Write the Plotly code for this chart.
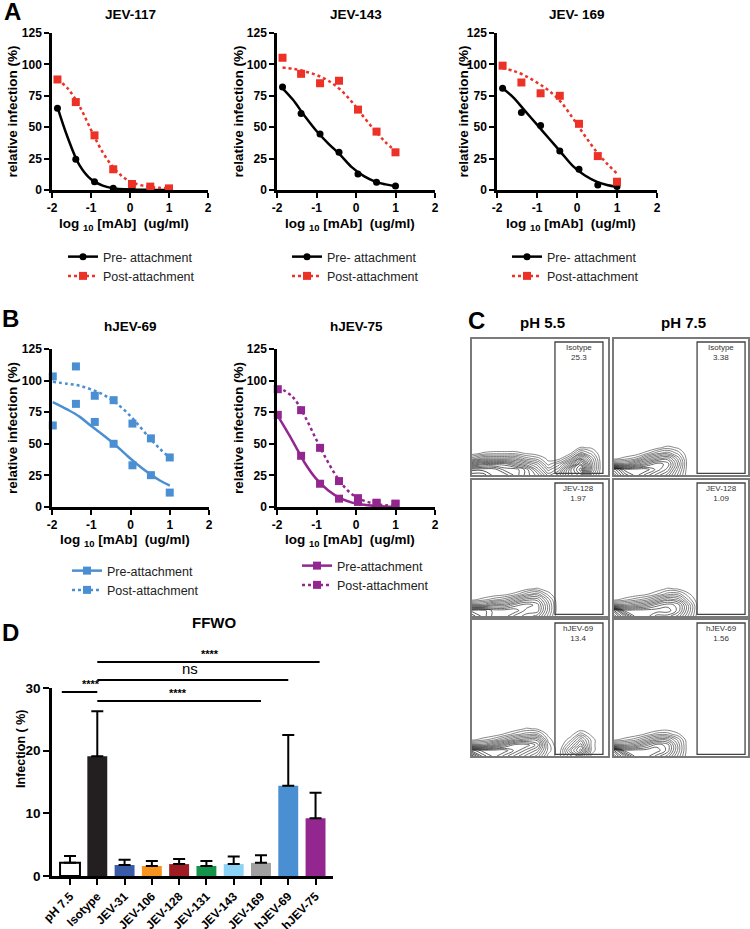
import plotly.graph_objects as go

W, H = 750, 929
FONT = "Arial, 'Liberation Sans', Helvetica, sans-serif"

# ---------------- Panel A / B data (log10 [mAb] ug/ml vs relative infection %) ----------------
log_conc_a = [-1.86, -1.39, -0.91, -0.43, 0.05, 0.52, 1.0]
log_conc_b = [-1.98, -1.39, -0.91, -0.43, 0.05, 0.52, 1.0]
fit_x_a = [-1.86, -1.6, -1.3, -1.0, -0.7, -0.4, -0.1, 0.2, 0.5, 0.75, 1.0]
fit_x_b = [-1.98, -1.6, -1.3, -1.0, -0.7, -0.4, -0.1, 0.2, 0.5, 0.75, 1.0]

jev117_pre = [65, 24.5, 6.6, 1.3, 0.5, 1.3, 1.0]
jev117_post = [88, 70, 43.5, 16.5, 4.8, 2.7, 1.3]
jev117_pre_fit = [66, 42, 20, 8.5, 3.5, 1.3, 0.5, 0.2, 0.1, 0.0, 0.0]
jev117_post_fit = [88, 81, 67, 48, 30, 17, 8.5, 4.5, 2.5, 1.8, 1.2]

jev143_pre = [82, 61, 44.5, 30, 12.8, 6.1, 3.2]
jev143_post = [105.3, 92.5, 85, 87, 64, 46.5, 30]
jev143_pre_fit = [81, 72, 59, 47, 37, 28, 18, 11, 6.5, 4.5, 3]
jev143_post_fit = [97.5, 96.5, 94.5, 91.5, 87, 80, 70, 58, 46.5, 38, 31]

jev169_pre = [81, 61.7, 51.3, 31, 16.5, 4, 2.7]
jev169_post = [99, 85.6, 77, 75, 52.7, 27, 6.6]
jev169_pre_fit = [81, 74, 63, 52, 41, 30, 19, 11.5, 6.5, 4, 2.5]
jev169_post_fit = [97, 95, 91, 85.5, 79, 70, 57, 43, 30, 21, 13]

hjev69_pre = [64.5, 81.6, 67.3, 50, 33, 25.2, 11.4]
hjev69_post = [103.3, 111.2, 88, 84.5, 66, 54.3, 39.2]
hjev69_pre_fit = [83, 77, 71.5, 64, 57, 49.5, 41, 33, 26, 21, 17]
hjev69_post_fit = [99, 97.5, 96, 93, 89, 83, 75, 65, 54, 46, 39]

hjev75_pre = [72.9, 40.5, 18.4, 6.6, 4, 3, 2.5]
hjev75_post = [93.2, 76.6, 46.8, 20.5, 7, 3.4, 2.6]
hjev75_pre_fit = [72, 52, 35, 22, 13, 7, 3.5, 1.7, 0.8, 0.4, 0.2]
hjev75_post_fit = [95, 87, 72, 53, 35, 20, 10, 5, 2.5, 1.3, 0.7]

dose_tickvals = [-2, -1, 0, 1, 2]
dose_ticktext = ["-2", "-1", "0", "1", "2"]
rel_tickvals = [0, 25, 50, 75, 100, 125]

titles_a = ["JEV-117", "JEV-143", "JEV- 169"]
titles_b = ["hJEV-69", "hJEV-75"]

# ---------------- Panel C data (flow cytometry contour densities) ----------------
c_x = [0, 8, 16, 24, 32, 40, 48, 56, 64, 72, 80, 88, 96]
c_y = [0, 4, 8, 12, 16, 20, 24]
c_iso_55 = [
    [9, 9, 8, 8, 7, 6, 5, 3, 4, 6, 7, 2, 0],
    [8, 8, 8, 7, 7, 6, 4, 2, 3, 6, 8, 3, 0],
    [5, 6, 6, 6, 5, 4, 3, 1, 2, 4, 7, 3, 0],
    [2, 3, 3, 3, 3, 2, 1.5, 0.5, 0.5, 2, 5, 2.5, 0],
    [0.3, 0.8, 1, 1, 1, 0.6, 0.3, 0, 0, 0.5, 2.5, 1.5, 0],
    [0, 0, 0, 0, 0, 0, 0, 0, 0, 0, 0.8, 0.6, 0],
    [0, 0, 0, 0, 0, 0, 0, 0, 0, 0, 0, 0, 0],
]
c_iso_75 = [
    [10, 8, 7, 6, 5, 4, 2, 0, 0, 0, 0, 0, 0],
    [9, 7, 7, 7, 6, 5, 2.5, 0, 0, 0, 0, 0, 0],
    [3, 3, 4, 5, 6, 5.5, 3, 0, 0, 0, 0, 0, 0],
    [0.5, 1, 1.5, 3, 4, 4.5, 2.5, 0, 0, 0, 0, 0, 0],
    [0, 0, 0.3, 1, 2, 2.5, 1.5, 0, 0, 0, 0, 0, 0],
    [0, 0, 0, 0, 0.5, 1, 0.6, 0, 0, 0, 0, 0, 0],
    [0, 0, 0, 0, 0, 0, 0, 0, 0, 0, 0, 0, 0],
]
c_128_55 = [
    [8, 7, 6, 6, 5, 4.5, 4, 2, 0, 0, 0, 0, 0],
    [7, 7, 6, 6, 6, 5, 5, 2.5, 0, 0, 0, 0, 0],
    [3, 3, 4, 4, 5, 5.5, 5, 2.5, 0, 0, 0, 0, 0],
    [0.5, 1, 1.5, 2, 3, 4, 4, 2, 0, 0, 0, 0, 0],
    [0, 0, 0.3, 0.5, 1, 2, 2.5, 1, 0, 0, 0, 0, 0],
    [0, 0, 0, 0, 0, 0.5, 0.8, 0.3, 0, 0, 0, 0, 0],
    [0, 0, 0, 0, 0, 0, 0, 0, 0, 0, 0, 0, 0],
]
c_128_75 = [
    [10, 8, 6, 6, 5, 5, 4, 2, 0, 0, 0, 0, 0],
    [9, 6, 6, 6, 6, 6, 5, 2.5, 0, 0, 0, 0, 0],
    [3, 3, 3.5, 4, 5, 5.5, 5, 2.5, 0, 0, 0, 0, 0],
    [0.5, 1, 1.5, 2, 3, 4, 3.5, 1.5, 0, 0, 0, 0, 0],
    [0, 0, 0.3, 0.6, 1.2, 2, 2, 0.8, 0, 0, 0, 0, 0],
    [0, 0, 0, 0, 0.3, 0.8, 0.6, 0, 0, 0, 0, 0, 0],
    [0, 0, 0, 0, 0, 0, 0, 0, 0, 0, 0, 0, 0],
]
c_h69_55 = [
    [10, 8, 7, 6, 5, 4, 3, 1, 0.5, 2, 3, 0.5, 0],
    [8, 7, 7, 7, 6, 5, 4, 1.5, 0.3, 3, 5, 1, 0],
    [3, 3, 4, 5, 6, 6, 5, 1.5, 0, 2, 4, 1, 0],
    [0.5, 1, 1.5, 2.5, 3.5, 4, 4, 1, 0, 1, 3, 1, 0],
    [0, 0, 0.3, 0.8, 1.5, 2, 2, 0.5, 0, 0.3, 1.5, 0.5, 0],
    [0, 0, 0, 0, 0.3, 0.8, 0.6, 0, 0, 0, 0.3, 0, 0],
    [0, 0, 0, 0, 0, 0, 0, 0, 0, 0, 0, 0, 0],
]
c_h69_75 = [
    [10, 8, 6, 6, 5, 4, 2, 0, 0, 0, 0, 0, 0],
    [9, 6, 6, 6, 6, 5, 2.5, 0, 0, 0, 0, 0, 0],
    [3, 3, 3.5, 4.5, 5.5, 5, 2.5, 0, 0, 0, 0, 0, 0],
    [0.5, 1, 1.5, 2.5, 3.5, 3.5, 2, 0, 0, 0, 0, 0, 0],
    [0, 0, 0.3, 0.8, 1.5, 1.5, 0.8, 0, 0, 0, 0, 0, 0],
    [0, 0, 0, 0, 0.2, 0.4, 0.2, 0, 0, 0, 0, 0, 0],
    [0, 0, 0, 0, 0, 0, 0, 0, 0, 0, 0, 0, 0],
]
c_panels = [c_iso_55, c_iso_75, c_128_55, c_128_75, c_h69_55, c_h69_75]
c_gate_names = ["Isotype", "Isotype", "JEV-128", "JEV-128", "hJEV-69", "hJEV-69"]
c_gate_values = ["25.3", "3.38", "1.97", "1.09", "13.4", "1.56"]
c_col_titles = ["pH 5.5", "pH 7.5"]

# ---------------- Panel D data ----------------
d_cats = ["pH 7.5", "Isotype", "JEV-31", "JEV-106", "JEV-128", "JEV-131",
          "JEV-143", "JEV-169", "hJEV-69", "hJEV-75"]
d_mean = [2.1, 19.1, 1.75, 1.6, 1.9, 1.6, 1.9, 2.1, 14.4, 9.2]
d_err = [1.1, 7.2, 0.85, 0.8, 0.8, 0.8, 1.2, 1.2, 8.1, 4.1]
d_colors = ["#ffffff", "#231f20", "#3a5ba8", "#f7941d", "#9e1c22", "#13944a",
            "#8dd3f6", "#a0a0a0", "#4a8fd1", "#93278f"]
d_tickvals = [0, 10, 20, 30]
# significance comparisons: from / to category index, label, label position, height (axis-domain units)
sig_from = [-0.3, 1.0, 1.0, 1.0]
sig_to = [1.0, 7.0, 8.0, 9.15]
sig_label = ["****", "****", "ns", "****"]
sig_label_x = [0.35, 3.95, 4.4, 5.13]
sig_level = [0.979, 0.931, 1.043, 1.138]

# ---------------- helpers (positions in page pixels) ----------------
def xdom(l, r):
    return [l / W, min(r / W, 1.0)]

def ydom(t, b):
    return [1 - b / H, 1 - t / H]

def px(x):
    return x / W

def py(y):
    return 1 - y / H

RED = "#ec3127"
BLUE = "#4a8fd1"
PURPLE = "#93278f"

fig = go.Figure()
layout = dict(
    template="none",
    width=W, height=H, autosize=False,
    margin=dict(l=0, r=0, t=0, b=0, pad=0),
    paper_bgcolor="white", plot_bgcolor="white",
    font=dict(family=FONT, color="black"),
    showlegend=True,
)
annotations = []
shapes = []

def dose_axes(n, xl, xr, yt, yb):
    layout[f"xaxis{n}"] = dict(
        domain=xdom(xl, xr), anchor=f"y{n}", range=[-2, 2], automargin=False,
        tickvals=dose_tickvals, ticktext=dose_ticktext,
        showline=True, linewidth=2.5, linecolor="black",
        ticks="outside", ticklen=5, tickwidth=2, tickcolor="black",
        tickfont=dict(size=12, weight="bold", family=FONT),
        showgrid=False, zeroline=False,
    )
    layout[f"yaxis{n}"] = dict(
        domain=ydom(yt, yb), anchor=f"x{n}", range=[0, 125], automargin=False,
        tickvals=rel_tickvals,
        showline=True, linewidth=2.5, linecolor="black",
        ticks="outside", ticklen=5, tickwidth=2, tickcolor="black",
        tickfont=dict(size=12, weight="bold", family=FONT),
        showgrid=False, zeroline=False,
    )

# Panel A/B subplot geometry (pixels)
dose_specs = [
    # n, xl, xr, yt, yb, ylabel_x, xlabel_y, title_y
    (1, 52, 208, 33, 190, 12, 224, 15),
    (2, 277, 435, 33, 190, 238, 224, 15),
    (3, 497, 657, 33, 190, 463, 224, 15),
    (4, 52, 209, 349, 507, 12, 540, 327),
    (5, 277, 435, 349, 507, 238, 540, 327),
]
for n, xl, xr, yt, yb, ylx, xly, tty in dose_specs:
    dose_axes(n, xl, xr, yt, yb)
    annotations.append(dict(
        x=px(ylx), y=py((yt + yb) / 2), xref="paper", yref="paper",
        text="relative infection (%)", textangle=-90, showarrow=False,
        font=dict(size=13.5, weight="bold", family=FONT), xanchor="center", yanchor="middle"))
    annotations.append(dict(
        x=px((xl + xr) / 2 - 6), y=py(xly), xref="paper", yref="paper",
        text="log <sub>10</sub> [mAb]\u00a0\u00a0(ug/ml)", showarrow=False,
        font=dict(size=13.5, weight="bold", family=FONT), xanchor="center", yanchor="middle"))

titles_all = titles_a + titles_b
for (n, xl, xr, yt, yb, ylx, xly, tty), t in zip(dose_specs, titles_all):
    annotations.append(dict(
        x=px((xl + xr) / 2), y=py(tty), xref="paper", yref="paper", text=t,
        showarrow=False, font=dict(size=13.5, weight="bold", family=FONT),
        xanchor="center", yanchor="middle"))

def add_dose(n, xs, fx, pre, post, pre_fit, post_fit, color_pre, color_post,
             sym_pre, sym_post, legend, names, size_pre=7, size_post=8):
    ax = dict(xaxis=f"x{n}", yaxis=f"y{n}")
    fig.add_trace(go.Scatter(x=fx, y=pre_fit, mode="lines", line=dict(color=color_pre, width=2.5, shape="spline"),
                             showlegend=False, hoverinfo="skip", **ax))
    fig.add_trace(go.Scatter(x=fx, y=post_fit, mode="lines",
                             line=dict(color=color_post, width=2.5, dash="dot", shape="spline"),
                             showlegend=False, hoverinfo="skip", **ax))
    fig.add_trace(go.Scatter(x=xs, y=pre, mode="markers", cliponaxis=False,
                             marker=dict(color=color_pre, symbol=sym_pre, size=size_pre),
                             showlegend=False, **ax))
    fig.add_trace(go.Scatter(x=xs, y=post, mode="markers", cliponaxis=False,
                             marker=dict(color=color_post, symbol=sym_post, size=size_post),
                             showlegend=False, **ax))
    # legend entries
    fig.add_trace(go.Scatter(x=[None], y=[None], mode="lines+markers", name=names[0],
                             line=dict(color=color_pre, width=2.5),
                             marker=dict(color=color_pre, symbol=sym_pre, size=size_pre),
                             legend=legend, **ax))
    fig.add_trace(go.Scatter(x=[None], y=[None], mode="lines+markers", name=names[1],
                             line=dict(color=color_post, width=2.5, dash="dot"),
                             marker=dict(color=color_post, symbol=sym_post, size=size_post),
                             legend=legend, **ax))

names_a = ["Pre- attachment", "Post-attachment"]
names_b = ["Pre-attachment", "Post-attachment"]
add_dose(1, log_conc_a, fit_x_a, jev117_pre, jev117_post, jev117_pre_fit, jev117_post_fit,
         "black", RED, "circle", "square", "legend", names_a)
add_dose(2, log_conc_a, fit_x_a, jev143_pre, jev143_post, jev143_pre_fit, jev143_post_fit,
         "black", RED, "circle", "square", "legend2", names_a)
add_dose(3, log_conc_a, fit_x_a, jev169_pre, jev169_post, jev169_pre_fit, jev169_post_fit,
         "black", RED, "circle", "square", "legend3", names_a)
add_dose(4, log_conc_b, fit_x_b, hjev69_pre, hjev69_post, hjev69_pre_fit, hjev69_post_fit,
         BLUE, BLUE, "square", "square", "legend4", names_b, 8, 8)
add_dose(5, log_conc_b, fit_x_b, hjev75_pre, hjev75_post, hjev75_pre_fit, hjev75_post_fit,
         PURPLE, PURPLE, "square", "square", "legend5", names_b, 8, 8)

legend_pos = {
    "legend": (63, 242), "legend2": (287, 242), "legend3": (507, 242),
    "legend4": (67, 556), "legend5": (297, 551),
}
for key, (lx, ly) in legend_pos.items():
    layout[key] = dict(x=px(lx), y=py(ly), xanchor="left", yanchor="top",
                       bgcolor="rgba(0,0,0,0)", borderwidth=0, tracegroupgap=0,
                       font=dict(size=12.5, family=FONT, color="#222"), itemwidth=30)

# ---------------- Panel C ----------------
c_cols = [(472, 608), (614, 748)]
c_rows = [(339, 475), (480, 616), (620, 756)]
c_gates_x = [(61, 96.3), (62, 97.8)]
k = 0
for r, (yt, yb) in enumerate(c_rows):
    for c, (xl, xr) in enumerate(c_cols):
        n = 6 + k
        layout[f"xaxis{n}"] = dict(domain=xdom(xl, xr), anchor=f"y{n}", range=[0, 100], automargin=False,
                                   showline=True, mirror=True, linecolor="#7a7a7a", linewidth=1.5,
                                   showticklabels=False, ticks="", showgrid=False, zeroline=False)
        layout[f"yaxis{n}"] = dict(domain=ydom(yt, yb), anchor=f"x{n}", range=[0, 100], automargin=False,
                                   showline=True, mirror=True, linecolor="#7a7a7a", linewidth=1.5,
                                   showticklabels=False, ticks="", showgrid=False, zeroline=False)
        fig.add_trace(go.Contour(
            x=c_x, y=c_y, z=c_panels[k], xaxis=f"x{n}", yaxis=f"y{n}",
            contours=dict(coloring="lines", start=0.7, end=10, size=0.5),
            line=dict(width=0.7, smoothing=1.2),
            colorscale=[[0, "#555555"], [1, "#000000"]], showscale=False,
            hoverinfo="skip", showlegend=False))
        gx0, gx1 = c_gates_x[c]
        shapes.append(dict(type="rect", xref=f"x{n}", yref=f"y{n}", x0=gx0, x1=gx1, y0=1.2, y1=97.8,
                           line=dict(color="#444444", width=1.3), fillcolor="rgba(0,0,0,0)"))
        annotations.append(dict(x=(gx0 + gx1) / 2, y=90, xref=f"x{n}", yref=f"y{n}",
                                text=f"{c_gate_names[k]}<br>{c_gate_values[k]}", showarrow=False,
                                font=dict(size=8, family=FONT, color="#333"),
                                xanchor="center", yanchor="middle"))
        k += 1
for (xl, xr), t in zip(c_cols, c_col_titles):
    annotations.append(dict(x=px((xl + xr) / 2 + 2), y=py(323), xref="paper", yref="paper", text=t,
                            showarrow=False, font=dict(size=15, weight="bold", family=FONT),
                            xanchor="center", yanchor="middle"))

# ---------------- Panel D ----------------
n = 12
layout[f"xaxis{n}"] = dict(domain=xdom(52, 333), anchor=f"y{n}", range=[-0.66, 9.64], automargin=False,
                           type="category", categoryorder="array", categoryarray=d_cats,
                           showline=True, linewidth=2.5, linecolor="black",
                           ticks="outside", ticklen=6, tickwidth=2, tickcolor="black",
                           tickangle=-45, tickfont=dict(size=12, weight="bold", family=FONT),
                           showgrid=False, zeroline=False)
layout[f"yaxis{n}"] = dict(domain=ydom(688, 876), anchor=f"x{n}", range=[0, 30], automargin=False,
                           tickvals=d_tickvals,
                           showline=True, linewidth=2.5, linecolor="black",
                           ticks="outside", ticklen=6, tickwidth=2, tickcolor="black",
                           tickfont=dict(size=13.5, weight="bold", family=FONT),
                           showgrid=False, zeroline=False)
fig.add_trace(go.Bar(
    x=d_cats, y=d_mean, width=0.73, xaxis="x12", yaxis="y12",
    marker=dict(color=d_colors, line=dict(color="black", width=[2] + [0] * 9)),
    error_y=dict(type="data", symmetric=False, array=d_err, arrayminus=[0] * len(d_err),
                 color="black", thickness=2, width=6),
    showlegend=False))

def cat_dom(i):
    return (i + 0.66) / 10.3

for a, b, lab, lx, lev in zip(sig_from, sig_to, sig_label, sig_label_x, sig_level):
    shapes.append(dict(type="line", xref="x12 domain", yref="y12 domain",
                       x0=cat_dom(a), x1=cat_dom(b), y0=lev, y1=lev,
                       line=dict(color="black", width=2)))
    if lab == "ns":
        annotations.append(dict(x=cat_dom(lx), y=lev + 0.005, xref="x12 domain", yref="y12 domain",
                                text=lab, showarrow=False, yanchor="bottom",
                                font=dict(size=15, family=FONT)))
    else:
        annotations.append(dict(x=cat_dom(lx), y=lev, xref="x12 domain", yref="y12 domain",
                                text=lab, showarrow=False, yanchor="bottom",
                                font=dict(size=11, weight="bold", family=FONT)))

annotations.append(dict(x=px(190), y=py(633), xref="paper", yref="paper", text="FFWO",
                        showarrow=False, font=dict(size=15, weight="bold", family=FONT)))
annotations.append(dict(x=px(12), y=py(790), xref="paper", yref="paper", text="Infection ( %)",
                        textangle=-90, showarrow=False, font=dict(size=12.5, weight="bold", family=FONT)))

# Panel letters
for lab, lx, ly in [("A", 12, 12), ("B", 10, 318), ("C", 476, 320), ("D", 10, 632)]:
    annotations.append(dict(x=px(lx), y=py(ly), xref="paper", yref="paper", text=lab,
                            showarrow=False, font=dict(size=24, weight="bold", family=FONT),
                            xanchor="center", yanchor="middle"))

layout["annotations"] = annotations
layout["shapes"] = shapes
fig.update_layout(**layout)
# remove the browser's default 8px page margin so the 750x929 figure fills the window exactly
fig.write_html("out.html", config={"displayModeBar": False},
               post_script="document.body.style.margin='0';document.body.style.overflow='hidden';")
